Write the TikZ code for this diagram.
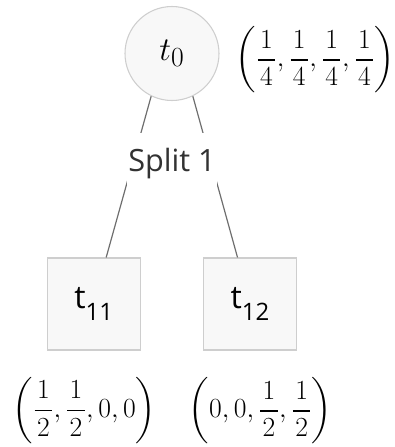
\documentclass[tikz,border=0pt]{standalone}
\usepackage{exscale}
\usepackage{fontspec}
\newfontfamily\labelfont{Open Sans}

\definecolor{nodefill}{RGB}{248,248,248}
\definecolor{nodeborder}{RGB}{206,206,206}
\definecolor{edgegray}{RGB}{110,110,110}
\definecolor{labelgray}{RGB}{50,50,50}

\newcommand{\leafsub}[1]{\raisebox{-9.5pt}{\fontsize{18}{18}\selectfont #1}}
\newcommand{\probfrac}[2]{\frac{\mkern1.5mu#1\mkern1.5mu}{\mkern1.5mu#2\mkern1.5mu}}

\begin{document}
\begin{tikzpicture}[
  x=0.75pt, y=-0.75pt,
  root node/.style={
    circle,
    draw=nodeborder,
    fill=nodefill,
    line width=0.8pt,
    minimum size=70.5pt,
    inner sep=0pt,
    font=\fontsize{30}{30}\selectfont
  },
  leaf node/.style={
    rectangle,
    draw=nodeborder,
    fill=nodefill,
    line width=0.8pt,
    minimum width=69.75pt,
    minimum height=69pt,
    inner sep=0pt,
    font=\labelfont\fontsize{24}{24}\selectfont
  },
  split label/.style={
    fill=white,
    inner xsep=1pt,
    inner ysep=0pt,
    minimum height=45.75pt,
    text=labelgray,
    font=\labelfont\fontsize{23}{23}\selectfont
  },
  branch/.style={
    draw=edgegray,
    line width=0.9pt
  },
  prob/.style={
    inner sep=0pt,
    font=\fontsize{22}{26}\selectfont
  }
]
\useasboundingbox (0,0) rectangle (395,447);

\node[root node] (root) at (172,53.5) {$t_0$};
\node[leaf node] (t11) at (93.7,304) {t\leafsub{11}};
\node[leaf node] (t12) at (250,304) {t\leafsub{12}};

\draw[branch] (root.244) -- (t11.75);
\draw[branch] (root.296) -- (t12.105);

\node[split label] (split) at (172,163.5) {Split 1};

\node[prob] (p0) at (315.5,60) {$\displaystyle\biggl(\probfrac{1}{4},\probfrac{1}{4},\probfrac{1}{4},\probfrac{1}{4}\biggr)$};
\node[prob] (p11) at (84.5,410.5) {$\displaystyle\biggl(\probfrac{1}{2},\probfrac{1}{2},0,0\biggr)$};
\node[prob] (p12) at (260.5,411) {$\displaystyle\biggl(0,0,\probfrac{1}{2},\probfrac{1}{2}\biggr)$};
\end{tikzpicture}
\end{document}
